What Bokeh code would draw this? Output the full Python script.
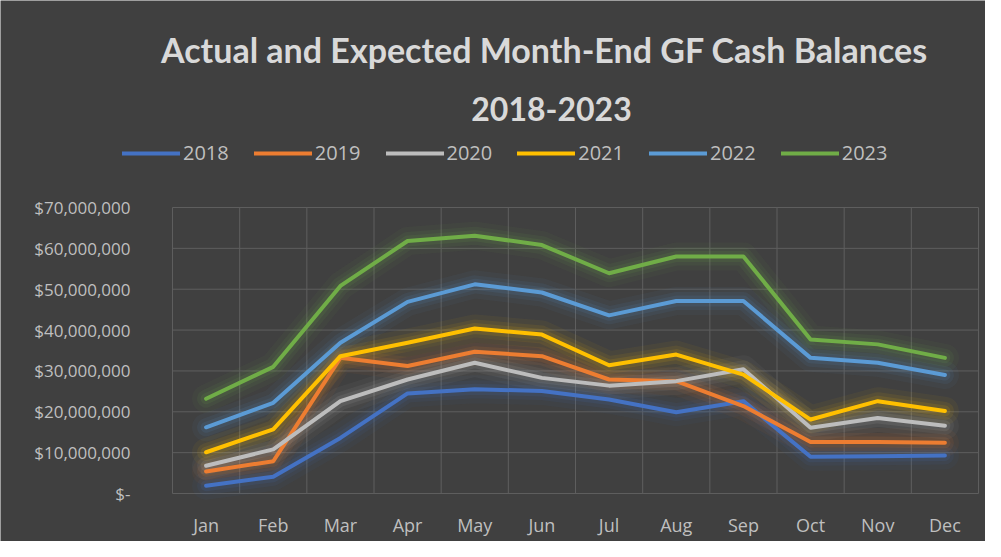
from bokeh.plotting import figure
from bokeh.models import Range1d, Legend, LegendItem, Label, LabelSet, ColumnDataSource
from bokeh.core.properties import value
from bokeh.embed import file_html
from bokeh.resources import INLINE

months = ["Jan", "Feb", "Mar", "Apr", "May", "Jun", "Jul", "Aug", "Sep", "Oct", "Nov", "Dec"]
years = ["2018", "2019", "2020", "2021", "2022", "2023"]

y2018 = [1.9e6, 4.1e6, 13.6e6, 24.5e6, 25.5e6, 25.1e6, 23.0e6, 19.9e6, 22.6e6, 9.0e6, 9.1e6, 9.3e6]
y2019 = [5.4e6, 7.9e6, 33.2e6, 31.2e6, 34.7e6, 33.6e6, 27.9e6, 27.5e6, 21.4e6, 12.6e6, 12.6e6, 12.4e6]
y2020 = [6.8e6, 10.8e6, 22.6e6, 27.9e6, 32.0e6, 28.3e6, 26.4e6, 27.5e6, 30.4e6, 16.1e6, 18.5e6, 16.6e6]
y2021 = [10.1e6, 15.7e6, 33.6e6, 36.9e6, 40.4e6, 38.9e6, 31.4e6, 34.0e6, 29.1e6, 18.1e6, 22.6e6, 20.2e6]
y2022 = [16.2e6, 22.2e6, 36.9e6, 46.9e6, 51.2e6, 49.2e6, 43.6e6, 47.1e6, 47.1e6, 33.2e6, 32.0e6, 29.0e6]
y2023 = [23.2e6, 31.0e6, 50.8e6, 61.8e6, 63.1e6, 60.8e6, 53.9e6, 58.0e6, 58.0e6, 37.7e6, 36.5e6, 33.2e6]
series = [y2018, y2019, y2020, y2021, y2022, y2023]
colors = ["#4472C4", "#ED7D31", "#BDBDBD", "#FFC000", "#5B9BD5", "#70AD47"]

y_ticks = [0, 10e6, 20e6, 30e6, 40e6, 50e6, 60e6, 70e6]
y_tick_labels = ["$-", "$10,000,000", "$20,000,000", "$30,000,000", "$40,000,000",
                 "$50,000,000", "$60,000,000", "$70,000,000"]

BG = "#404040"
TXT = "#BFBFBF"
TITLE = "#D9D9D9"
FONT = "Open Sans"
GRID = "#5E5E5E"

n = len(months)
x = [i + 0.5 for i in range(n)]

# the frame covers the whole figure; the 12-month x 70M data area sits inside it
W, H = 985, 541
PLOT_L, PLOT_R, PLOT_T, PLOT_B = 172, 978, 207, 493     # data area, figure pixels
ppu = (PLOT_R - PLOT_L) / n
vpp = 70e6 / (PLOT_B - PLOT_T)
x_range = Range1d(-PLOT_L / ppu, (W - PLOT_L) / ppu)
y_range = Range1d(-(H - PLOT_B) * vpp, PLOT_B * vpp)

p = figure(width=W, height=H, output_backend="svg", toolbar_location=None,
           x_range=x_range, y_range=y_range,
           x_axis_location=None, y_axis_location=None,
           min_border_left=0, min_border_right=0, min_border_top=0, min_border_bottom=0)
p.background_fill_color = BG
p.border_fill_color = BG
p.outline_line_color = None
p.xgrid.visible = False
p.ygrid.visible = False

# tick labels placed through the scales
ysrc = ColumnDataSource(dict(y=y_ticks, text=y_tick_labels))
p.add_layout(LabelSet(x=130, y="y", text="text", source=ysrc, x_units="screen",
                      text_align="right", text_baseline="middle",
                      text_font=value(FONT), text_font_size="17px", text_color=TXT))
xsrc = ColumnDataSource(dict(x=x, text=months))
p.add_layout(LabelSet(x="x", y=H - 524, text="text", source=xsrc, y_units="screen",
                      text_align="center", text_baseline="middle",
                      text_font=value(FONT), text_font_size="18px", text_color=TXT))

# gridlines limited to the data area
bounds = list(range(n + 1))
p.segment(x0=[0] * len(y_ticks), y0=y_ticks, x1=[n] * len(y_ticks), y1=y_ticks,
          line_color=GRID, line_width=1)
p.segment(x0=bounds, y0=[0] * len(bounds), x1=bounds, y1=[y_ticks[-1]] * len(bounds),
          line_color=GRID, line_width=1)

# soft glow beneath the lines
for ys, c in zip(series, colors):
    for w, a in ((28, 0.05), (18, 0.08), (11, 0.11)):
        p.line(x, ys, line_color=c, line_width=w, line_alpha=a, line_join="round", line_cap="round")

items = []
for yr, ys, c in zip(years, series, colors):
    r = p.line(x, ys, line_color=c, line_width=4, line_join="round", line_cap="round")
    items.append(LegendItem(label=yr, renderers=[r]))

legend = Legend(items=items, orientation="horizontal", location=(122, 375),
                background_fill_alpha=0, border_line_color=None,
                label_text_color=TXT, label_text_font=FONT, label_text_font_size="20px",
                glyph_width=58, glyph_height=20, label_standoff=3, spacing=25,
                padding=0, margin=0)
p.add_layout(legend, "center")

title = Label(x=544, y=H - 49, x_units="screen", y_units="screen",
              text="Actual and Expected Month-End GF Cash Balances",
              text_align="center", text_baseline="middle",
              text_font="Lato", text_font_style="bold",
              text_font_size="34px", text_color=TITLE)
sub = Label(x=551, y=H - 108, x_units="screen", y_units="screen",
            text="2018-2023",
            text_align="center", text_baseline="middle",
            text_font="Lato", text_font_style="bold",
            text_font_size="32px", text_color=TITLE)
p.add_layout(title)
p.add_layout(sub)

open("out.html", "w").write(file_html(p, INLINE))
